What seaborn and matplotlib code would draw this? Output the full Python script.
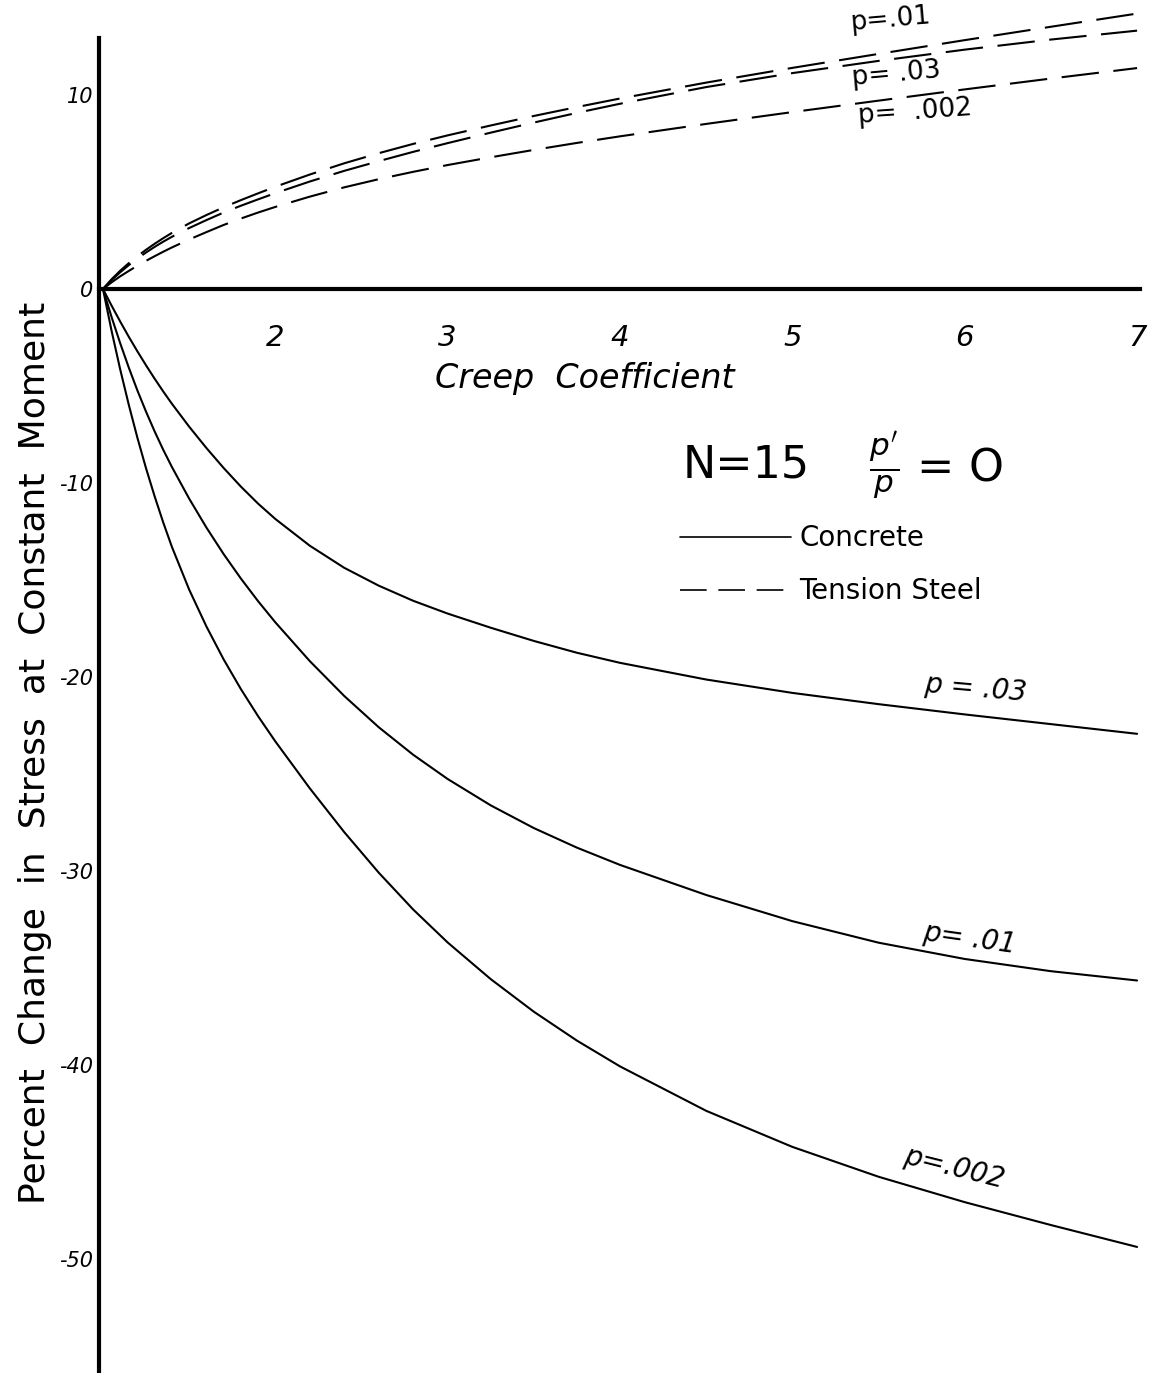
import pandas as pd
import matplotlib
matplotlib.use("Agg")
import matplotlib.pyplot as plt
import seaborn as sns
from matplotlib.lines import Line2D

# creep coefficient values where the curves were read
creep = [1, 1.05, 1.1, 1.15, 1.2, 1.25, 1.3, 1.35, 1.4, 1.5, 1.6, 1.7, 1.8, 1.9, 2.0,
         2.2, 2.4, 2.6, 2.8, 3.0, 3.25, 3.5, 3.75, 4.0, 4.5, 5.0, 5.5, 6.0, 6.5, 7.0]

# concrete stress change (%)
conc_03 = [0, -0.86, -1.68, -2.47, -3.22, -3.94, -4.63, -5.29, -5.92, -7.10, -8.20, -9.23, -10.19, -11.07, -11.86,
           -13.24, -14.38, -15.30, -16.08, -16.74, -17.47, -18.15, -18.76, -19.28, -20.14, -20.83, -21.41, -21.94, -22.44, -22.94]
conc_01 = [0, -1.45, -2.80, -4.06, -5.24, -6.33, -7.35, -8.30, -9.18, -10.81, -12.30, -13.67, -14.93, -16.10, -17.19,
           -19.19, -20.99, -22.60, -24.02, -25.27, -26.63, -27.80, -28.81, -29.70, -31.25, -32.60, -33.71, -34.55, -35.18, -35.66]
conc_002 = [0, -2.16, -4.15, -5.98, -7.68, -9.25, -10.70, -12.05, -13.30, -15.50, -17.40, -19.10, -20.63, -22.03, -23.33,
            -25.75, -28.01, -30.10, -32.00, -33.70, -35.59, -37.27, -38.76, -40.09, -42.38, -44.24, -45.78, -47.09, -48.27, -49.40]

# tension steel stress change (%)
steel_01 = [0, 0.50, 0.94, 1.33, 1.69, 2.02, 2.33, 2.62, 2.89, 3.38, 3.81, 4.21, 4.58, 4.93, 5.27,
            5.90, 6.48, 7.00, 7.48, 7.92, 8.43, 8.92, 9.38, 9.82, 10.64, 11.40, 12.12, 12.83, 13.52, 14.20]
steel_03 = [0, 0.45, 0.86, 1.23, 1.57, 1.88, 2.17, 2.44, 2.69, 3.14, 3.55, 3.94, 4.29, 4.62, 4.94,
            5.54, 6.09, 6.59, 7.07, 7.52, 8.06, 8.58, 9.08, 9.55, 10.41, 11.13, 11.76, 12.34, 12.86, 13.32]
steel_002 = [0, 0.34, 0.65, 0.93, 1.20, 1.45, 1.69, 1.92, 2.14, 2.55, 2.93, 3.30, 3.63, 3.94, 4.23,
             4.76, 5.24, 5.66, 6.04, 6.39, 6.79, 7.17, 7.53, 7.87, 8.51, 9.12, 9.71, 10.29, 10.85, 11.39]

x_ticks = [2, 3, 4, 5, 6, 7]
y_ticks = [10, 0, -10, -20, -30, -40, -50]

series = [
    ("Concrete", ".03", conc_03),
    ("Concrete", ".01", conc_01),
    ("Concrete", ".002", conc_002),
    ("Tension Steel", ".01", steel_01),
    ("Tension Steel", ".03", steel_03),
    ("Tension Steel", ".002", steel_002),
]
frames = []
for member, p, vals in series:
    frames.append(pd.DataFrame({"creep": creep, "pct": vals, "member": member, "p": p,
                                "curve": member + p}))
df = pd.concat(frames, ignore_index=True)

sns.set_style("white")
plt.rcParams["font.family"] = ["DejaVu Sans"]
plt.rcParams["axes.unicode_minus"] = False
plt.rcParams["text.color"] = "black"
plt.rcParams["axes.labelcolor"] = "black"
plt.rcParams["xtick.color"] = "black"
plt.rcParams["ytick.color"] = "black"

fig = plt.figure(figsize=(11.49, 13.73), dpi=100)
W, H = 1149, 1373
ax = fig.add_axes([99 / W, 0, (1140 - 99) / W, 1])

sns.lineplot(data=df, x="creep", y="pct", units="curve", estimator=None, style="member",
             dashes={"Concrete": "", "Tension Steel": (18, 7)}, color="black",
             lw=1.5, sort=False, legend=False, ax=ax)

ax.set_xlim(0.977, 7.017)
ax.set_ylim(-55.9, 14.9)

# axes styling: thick left spine, x axis drawn through zero
for s in ["top", "right"]:
    ax.spines[s].set_visible(False)
ax.spines["left"].set_linewidth(3)
ax.spines["left"].set_color("black")
ax.spines["left"].set_bounds(-55.9, 12.94)
ax.spines["bottom"].set_position(("data", 0))
ax.spines["bottom"].set_linewidth(3)
ax.spines["bottom"].set_color("black")

ax.set_xticks(x_ticks)
ax.set_xticklabels([str(t) for t in x_ticks], fontsize=21, fontstyle="italic")
ax.tick_params(axis="x", direction="inout", length=27, width=1.5, pad=12)
ax.set_yticks(y_ticks)
ax.set_yticklabels([str(t) for t in y_ticks], fontsize=15, fontstyle="italic")
ax.tick_params(axis="y", direction="in", length=18, width=1.5, pad=4)

ax.set_xlabel("Creep  Coefficient", fontsize=24, fontstyle="italic")
ax.xaxis.set_label_coords(0.467, 0.736)
ax.set_ylabel("Percent  Change  in  Stress  at  Constant  Moment", fontsize=26)
ax.yaxis.set_label_coords(-0.045, 0.452)

# header note and legend
ax.text(4.73, -9.1, "N=15", fontsize=32, ha="center", va="center")
ax.text(5.83, -9.1, r"$\frac{p'}{p}$ = O", fontsize=32, ha="center", va="center")
handles = [Line2D([], [], color="black", lw=1.2),
           Line2D([], [], color="black", lw=1.2, dashes=(16, 7))]
ax.legend(handles, ["Concrete", "Tension Steel"], loc="upper left",
          bbox_to_anchor=(0.558, 0.618), frameon=False, fontsize=20,
          handlelength=4, handletextpad=0.3, labelspacing=0.9,
          borderpad=0, borderaxespad=0)

# curve labels
ax.text(5.57, 13.9, "p=.01", fontsize=19, ha="center", va="center", rotation=5)
ax.text(5.60, 11.1, "p= .03", fontsize=19, ha="center", va="center", rotation=5)
ax.text(5.71, 9.1, "p=  .002", fontsize=19, ha="center", va="center", rotation=4)
ax.text(6.06, -20.6, "p = .03", fontsize=20, fontstyle="italic", ha="center", va="center", rotation=-5)
ax.text(6.03, -33.5, "p= .01", fontsize=20, fontstyle="italic", ha="center", va="center", rotation=-8)
ax.text(5.94, -45.3, "p=.002", fontsize=20, fontstyle="italic", ha="center", va="center", rotation=-14)

fig.savefig("out.png", dpi=100)
